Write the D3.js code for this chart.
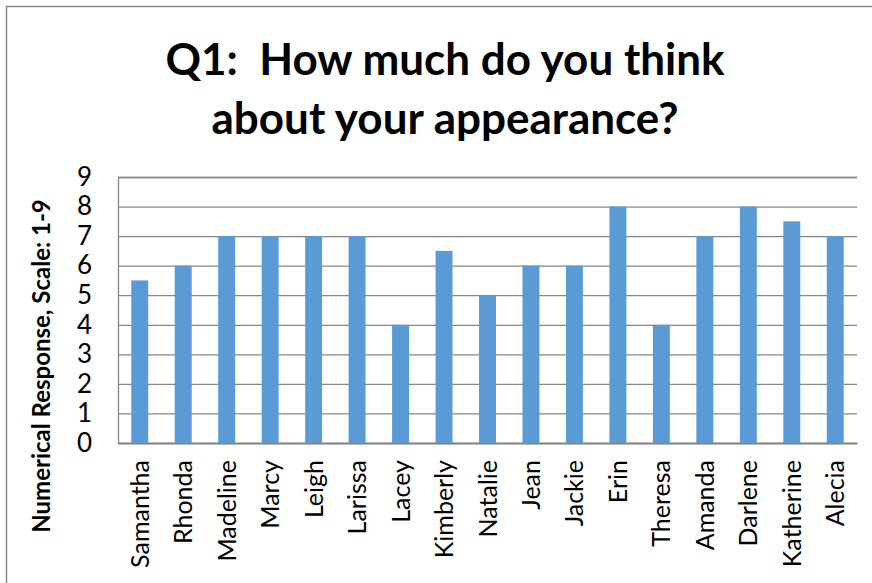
<!DOCTYPE html>
<html>
<head>
<meta charset="utf-8">
<script src="https://cdn.jsdelivr.net/npm/d3@7"></script>
<style>
  html, body { margin: 0; padding: 0; background: #fff; }
  svg { display: block; font-family: Lato, "Open Sans", sans-serif; }
</style>
</head>
<body>
<svg id="chart" width="872" height="583"></svg>
<script>
const categories = ["Samantha", "Rhonda", "Madeline", "Marcy", "Leigh", "Larissa", "Lacey", "Kimberly", "Natalie", "Jean", "Jackie", "Erin", "Theresa", "Amanda", "Darlene", "Katherine", "Alecia"];
const values = [5.5, 6, 7, 7, 7, 7, 4, 6.5, 5, 6, 6, 8, 4, 7, 8, 7.5, 7];
const yTicks = [0, 1, 2, 3, 4, 5, 6, 7, 8, 9];
const titleLines = ["Q1:  How much do you think", "about your appearance?"];
const yAxisTitle = "Numerical Response, Scale: 1-9";

(function () {
const svg = d3.select("#chart");
const pLeft = 118, pRight = 857, pTop = 177, pBottom = 443;

// chart border
svg.append("rect")
  .attr("x", 6.5).attr("y", 6.5)
  .attr("width", 900).attr("height", 600)
  .attr("fill", "#fff")
  .attr("stroke", "#8a8a8a")
  .attr("stroke-width", 1.5);

const x = d3.scaleBand().domain(categories).range([pLeft, pRight])
  .paddingInner(0.61).paddingOuter(0.305);
const y = d3.scaleLinear().domain([0, 9]).range([pBottom, pTop]);

// y axis with gridlines
const yAxis = svg.append("g")
  .attr("transform", `translate(${pLeft},0)`)
  .call(d3.axisLeft(y).tickValues(yTicks).tickSize(-(pRight - pLeft)).tickPadding(26).tickFormat(d3.format("d")));
yAxis.select(".domain").attr("stroke", "#868686").attr("stroke-width", 1.3);
yAxis.selectAll(".tick line").attr("stroke", "#868686").attr("stroke-width", 1.3);
yAxis.selectAll(".tick text")
  .attr("font-family", "Lato, sans-serif")
  .attr("font-size", 26)
  .attr("fill", "#000");

// bars
svg.append("g").selectAll("rect")
  .data(categories)
  .join("rect")
  .attr("x", d => x(d))
  .attr("width", x.bandwidth())
  .attr("y", (d, i) => y(values[i]))
  .attr("height", (d, i) => y(0) - y(values[i]))
  .attr("fill", "#5B9BD5");

// x axis
const xAxis = svg.append("g")
  .attr("transform", `translate(0,${pBottom})`)
  .call(d3.axisBottom(x).tickSize(0));
xAxis.select(".domain").attr("stroke", "#868686").attr("stroke-width", 1.5);
xAxis.selectAll(".tick text")
  .attr("font-family", "Lato, sans-serif")
  .attr("font-size", 25)
  .attr("fill", "#000")
  .attr("text-anchor", "end")
  .attr("transform", "rotate(-90)")
  .attr("x", -17)
  .attr("y", 0)
  .attr("dy", "0.36em");

// title
svg.append("g").selectAll("text")
  .data(titleLines)
  .join("text")
  .attr("x", 445)
  .attr("y", (d, i) => 75 + i * 59)
  .attr("text-anchor", "middle")
  .attr("font-weight", "bold")
  .attr("font-size", 44)
  .attr("fill", "#000")
  .style("white-space", "pre")
  .text(d => d);

// y axis title
svg.append("text")
  .attr("transform", "translate(50,366) rotate(-90)")
  .attr("text-anchor", "middle")
  .attr("font-weight", "bold")
  .attr("font-size", 24)
  .attr("fill", "#000")
  .text(yAxisTitle);
})();
</script>
</body>
</html>
